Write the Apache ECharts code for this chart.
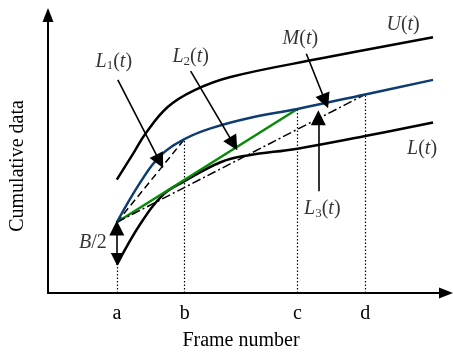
<!DOCTYPE html>
<html>
<head>
<meta charset="utf-8">
<script src="https://cdn.jsdelivr.net/npm/echarts@6/dist/echarts.min.js"></script>
<style>
  html, body { margin: 0; padding: 0; background: #fff; }
</style>
</head>
<body>
<div id="echarts" style="width: 453px; height: 356px"></div>
<script>
// curves (x = frame, y = cumulative value, arbitrary units)
const uCurve = [[69,117],[86,145],[98,165],[120,192],[146,209],[183,223],[273,242],[386,264]];
const mCurve = [[69,73],[93,115],[113,142],[137,159],[163,170],[203,181],[250,190],[318,205],[386,220]];
const lCurve = [[69,29],[93,72],[116,102],[136,115],[173,135],[200,142],[250,149],[318,162],[386,176]];

// frame markers on the x axis
const frameTicks = [69, 137, 250, 318];
const tickLabels = ['a', 'b', 'c', 'd'];

// annotation labels and their arrows
const labelNames = ['U', 'M', 'L', 'L1', 'L2', 'L3', 'B'];
const labelPos = [[356,277],[253,262],[375,149],[66,239],[143,244],[275,87],[45,52]];
const arrowLines = [
  [[70,220],[112,136]],
  [[143,229],[186,154]],
  [[259,247],[278,198]],
  [[271,105],[271,181]]
];

const FONT = '"Liberation Serif", "Times New Roman", serif';

function mAt(x) {
  return mCurve.find(p => p[0] === x);
}

const richText = {
  i: { fontFamily: FONT, fontStyle: 'italic', fontSize: 20, color: '#000', lineHeight: 22 },
  n: { fontFamily: FONT, fontSize: 20, color: '#000', lineHeight: 22 },
  s: { fontFamily: FONT, fontSize: 13, color: '#000', lineHeight: 12, verticalAlign: 'bottom' }
};

function labelText(name) {
  if (name === 'B') return '{i|B}{n|/2}';
  if (name.length === 2) return '{i|L}{s|' + name[1] + '}{n|(}{i|t}{n|)}';
  return '{i|' + name + '}{n|(}{i|t}{n|)}';
}

const a = frameTicks[0];
// dotted guides: at a it reaches L(t), the others reach M(t)
const guides = frameTicks.map((x, k) => {
  const top = k === 0 ? lCurve[0][1] : mAt(x)[1];
  return { coords: [[x, 0], [x, top]] };
});

let myChart = echarts.init(document.getElementById('echarts'));

myChart.setOption({
  animation: false,
  grid: { left: 47, right: 7, top: 15, bottom: 54 },
  xAxis: {
    type: 'value',
    min: 0,
    max: 399,
    name: 'Frame number',
    nameLocation: 'middle',
    nameGap: 38,
    nameTextStyle: { fontFamily: FONT, fontSize: 20, color: '#000', padding: [0, 12, 0, 0] },
    axisLine: { lineStyle: { color: '#000', width: 2 }, symbol: ['none', 'triangle'], symbolSize: [11, 14] },
    axisTick: { show: false },
    splitLine: { show: false },
    axisLabel: {
      customValues: frameTicks,
      formatter: v => tickLabels[frameTicks.indexOf(v)] || '',
      fontFamily: FONT,
      fontSize: 20,
      color: '#000',
      margin: 11
    }
  },
  yAxis: {
    type: 'value',
    min: 0,
    max: 287,
    name: 'Cumulative data',
    nameLocation: 'middle',
    nameGap: 20,
    nameTextStyle: { fontFamily: FONT, fontSize: 20, color: '#000', padding: [0, 0, 0, -24] },
    axisLine: { lineStyle: { color: '#000', width: 2 }, symbol: ['none', 'triangle'], symbolSize: [11, 14] },
    axisTick: { show: false },
    splitLine: { show: false },
    axisLabel: { show: false }
  },
  series: [
    {
      type: 'lines',
      coordinateSystem: 'cartesian2d',
      lineStyle: { color: '#000', width: 1.2, type: [1.5, 2], opacity: 1 },
      data: guides,
      z: 1
    },
    {
      type: 'line',
      data: uCurve,
      smooth: 0.4,
      showSymbol: false,
      lineStyle: { color: '#000', width: 2.5 },
      z: 3
    },
    {
      type: 'line',
      data: lCurve,
      smooth: 0.4,
      showSymbol: false,
      lineStyle: { color: '#000', width: 2.5 },
      z: 3
    },
    {
      type: 'line',
      data: mCurve,
      smooth: 0.4,
      showSymbol: false,
      lineStyle: { color: '#0d3c70', width: 2.5 },
      z: 4
    },
    {
      // L1: chord a -> b
      type: 'line',
      data: [mAt(a), mAt(frameTicks[1])],
      showSymbol: false,
      lineStyle: { color: '#000', width: 1.5, type: [7, 4] },
      z: 3
    },
    {
      // L2: chord a -> c
      type: 'line',
      data: [mAt(a), mAt(frameTicks[2])],
      showSymbol: false,
      lineStyle: { color: '#078a07', width: 2.5 },
      z: 3
    },
    {
      // L3: chord a -> d
      type: 'line',
      data: [mAt(a), mAt(frameTicks[3])],
      showSymbol: false,
      lineStyle: { color: '#000', width: 1.5, type: [9, 3, 2, 3] },
      z: 3
    },
    {
      type: 'lines',
      coordinateSystem: 'cartesian2d',
      symbol: ['none', 'triangle'],
      symbolSize: [11, 15],
      lineStyle: { color: '#000', width: 1.6, opacity: 1 },
      data: arrowLines.map(c => ({ coords: c })),
      z: 6
    },
    {
      // B/2 gap between M(a) and L(a)
      type: 'lines',
      coordinateSystem: 'cartesian2d',
      symbol: ['triangle', 'triangle'],
      symbolSize: [12, 15],
      lineStyle: { color: '#000', width: 1.6, opacity: 1 },
      data: [{ coords: [[a, lCurve[0][1] + 6], [a, mAt(a)[1] - 6]] }],
      z: 6
    },
    {
      type: 'scatter',
      symbolSize: 0,
      data: labelNames.map((n, k) => ({ name: n, value: labelPos[k] })),
      label: {
        show: true,
        position: 'inside',
        formatter: p => labelText(p.name),
        rich: richText
      },
      z: 7
    }
  ]
});
</script>
</body>
</html>
